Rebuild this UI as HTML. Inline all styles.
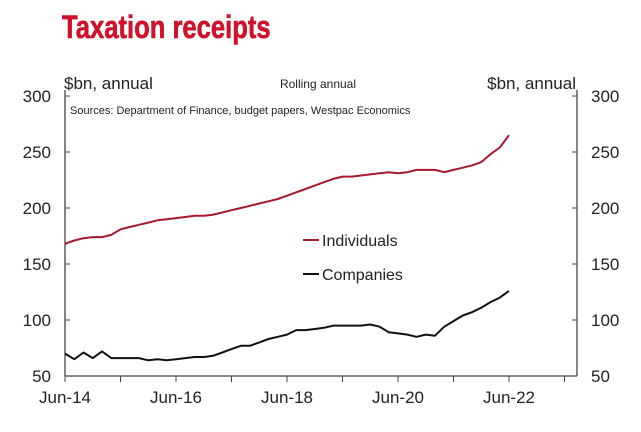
<!DOCTYPE html>
<html><head><meta charset="utf-8"><style>
body{margin:0;background:#fff;width:641px;height:427px;overflow:hidden;font-family:"Liberation Sans",sans-serif}
</style></head><body>
<svg width="641" height="427" xmlns="http://www.w3.org/2000/svg">
<text x="62" y="38" font-family="'Liberation Sans Narrow','Liberation Sans',sans-serif" font-weight="bold" font-size="32" fill="#d0112b" stroke="#d0112b" stroke-width="0.6" transform="translate(62,0) scale(0.8,1) translate(-62,0)">Taxation receipts</text>
<text x="64" y="89" font-size="17" fill="#222">$bn, annual</text>
<text x="576" y="89" font-size="17" fill="#222" text-anchor="end">$bn, annual</text>
<text x="318" y="88" font-size="12" fill="#222" text-anchor="middle">Rolling annual</text>
<text x="70" y="114" font-size="11" fill="#222">Sources: Department of Finance, budget papers, Westpac Economics</text>
<g id="axes"></g>
<g id="series"></g>
<g>
<line x1="303" y1="240" x2="319" y2="240" stroke="#a6192e" stroke-width="2"/>
<text x="322" y="246" font-size="16" fill="#222">Individuals</text>
<line x1="303" y1="274" x2="319" y2="274" stroke="#111" stroke-width="2"/>
<text x="322" y="280" font-size="16" fill="#222">Companies</text>
</g>
</svg>
<script>
const yTicks=[50,100,150,200,250,300];
const xTickLabels=["Jun-14","Jun-16","Jun-18","Jun-20","Jun-22"];
const individuals=[168,171,173,174,174,176,181,183,185,187,189,190,191,192,193,193,194,196,198,200,202,204,206,208,211,214,217,220,223,226,228,228,229,230,231,232,231,232,234,234,234,232,234,236,238,241,248,254,265];
const companies=[70,65,71,66,72,66,66,66,66,64,65,64,65,66,67,67,68,71,74,77,77,80,83,85,87,91,91,92,93,95,95,95,95,96,94,89,88,87,85,87,86,94,99,104,107,111,116,120,126];
const stepMonths=2;
const X0=65,X1=577,Y0=376,Y1=96,XMAX=110.7;
const xs=m=>X0+(X1-X0)*m/XMAX;
const ys=v=>Y0-(Y0-Y1)*(v-50)/250;
const NS="http://www.w3.org/2000/svg";
const ax=document.getElementById('axes');
function mk(t,a,p){const e=document.createElementNS(NS,t);for(const k in a)e.setAttribute(k,a[k]);p.appendChild(e);return e;}
let l=mk('line',{x1:X0,y1:Y1-6,x2:X0,y2:Y0,stroke:'#444','stroke-width':1.3},ax);


l=mk('line',{x1:X1,y1:Y1-6,x2:X1,y2:Y0,stroke:'#444','stroke-width':1.3},ax);


l=mk('line',{x1:X0,y1:Y0,x2:X1,y2:Y0,stroke:'#444','stroke-width':1.3},ax);


yTicks.forEach(v=>{
 const y=ys(v);
 mk('line',{x1:X0,y1:y,x2:X0+5,y2:y,stroke:'#444'},ax);
 mk('line',{x1:X1-5,y1:y,x2:X1,y2:y,stroke:'#444'},ax);
 let t=mk('text',{x:51,y:y+6,'font-size':17,fill:'#222','text-anchor':'end'},ax);t.textContent=v;
 
 
 t=mk('text',{x:591,y:y+6,'font-size':17,fill:'#222'},ax);t.textContent=v;
 
 
});
for(let m=0;m<=XMAX;m+=12){mk('line',{x1:xs(m),y1:Y0,x2:xs(m),y2:Y0+6,stroke:'#444'},ax);}
xTickLabels.forEach((s,i)=>{
 const t=mk('text',{x:xs(i*24),y:403,'font-size':17,fill:'#222','text-anchor':'middle'},ax);t.textContent=s;
 
 
});
const sg=document.getElementById('series');
function line(arr,col,name){
 const d=arr.map((v,i)=>(i?'L':'M')+xs(i*stepMonths).toFixed(1)+' '+ys(v).toFixed(1)).join(' ');
 const p=mk('path',{d:d,fill:'none',stroke:col,'stroke-width':2,'stroke-linejoin':'round'},sg);
 
 
}
line(individuals,'#a6192e','individuals-line');
line(companies,'#111','companies-line');
</script>
</body></html>
